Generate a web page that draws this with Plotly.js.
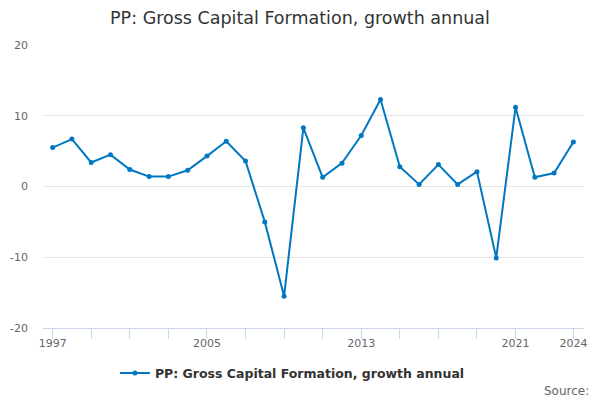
<!DOCTYPE html>
<html>
<head>
<meta charset="utf-8">
<script src="https://cdn.plot.ly/plotly-3.0.1.min.js"></script>
<style>html,body{margin:0;padding:0;background:#fff}#chart{width:600px;height:400px}</style>
</head>
<body>
<div id="chart"></div>
<script>
var years = [1997,1998,1999,2000,2001,2002,2003,2004,2005,2006,2007,2008,2009,2010,2011,2012,2013,2014,2015,2016,2017,2018,2019,2020,2021,2022,2023,2024];
var growth = [5.5,6.7,3.4,4.5,2.4,1.4,1.4,2.3,4.3,6.4,3.6,-5.0,-15.5,8.3,1.3,3.3,7.2,12.3,2.8,0.3,3.1,0.3,2.1,-10.1,11.2,1.3,1.9,6.3];
var seriesName = "PP: Gross Capital Formation, growth annual";
var chartTitle = "PP: Gross Capital Formation, growth annual";
var xTickVals = [1997,1999,2001,2003,2005,2007,2009,2011,2013,2015,2017,2019,2021,2024];
var xTickText = ["1997","","","","2005","","","","2013","","","","2021","2024"];
var yTickVals = [-20,-10,0,10,20];
var yTickText = ["-20","-10","0","10","20"];

var trace = {
  x: years, y: growth, name: seriesName, type: "scatter", mode: "lines+markers",
  line: {color: "#0077c0", width: 2},
  marker: {color: "#0077c0", size: 5}
};
var layout = {
  width: 600, height: 400,
  margin: {l: 43, r: 16, t: 45, b: 72},
  paper_bgcolor: "#fff", plot_bgcolor: "#fff",
  font: {family: "DejaVu Sans, sans-serif", color: "#666"},
  title: {text: chartTitle, x: 0.5, xanchor: "center", y: 0.955, yanchor: "middle",
          font: {size: 17.5, color: "#333", family: "DejaVu Sans, sans-serif"}},
  showlegend: true,
  legend: {orientation: "h", x: 0.461, xanchor: "center", y: -0.16, yanchor: "middle",
           itemwidth: 30,
           font: {size: 12.5, color: "#333", family: "DejaVu Sans, sans-serif", weight: "bold"}},
  xaxis: {range: [1996.5, 2024.55], tickvals: xTickVals, ticktext: xTickText,
          showgrid: false, zeroline: false, showline: true, linecolor: "#ccd6eb", linewidth: 1,
          ticks: "outside", ticklen: 10, tickcolor: "#ccd6eb", tickwidth: 1,
          ticklabelstandoff: -5,
          tickfont: {size: 11, color: "#666"}},
  yaxis: {range: [-20, 20], tickvals: yTickVals, ticktext: yTickText, showgrid: true, gridcolor: "#e6e6e6",
          zeroline: false, showline: false, ticks: "", ticklabelstandoff: 14,
          tickfont: {size: 11, color: "#666"}},
  annotations: [{text: "Source:", xref: "paper", yref: "paper", x: 1.013, xanchor: "right",
                 y: -0.2226, yanchor: "middle", showarrow: false,
                 font: {size: 12, color: "#666", family: "DejaVu Sans, sans-serif"}}]
};
Plotly.newPlot("chart", [trace], layout, {displayModeBar: false, staticPlot: true});
</script>
</body>
</html>
